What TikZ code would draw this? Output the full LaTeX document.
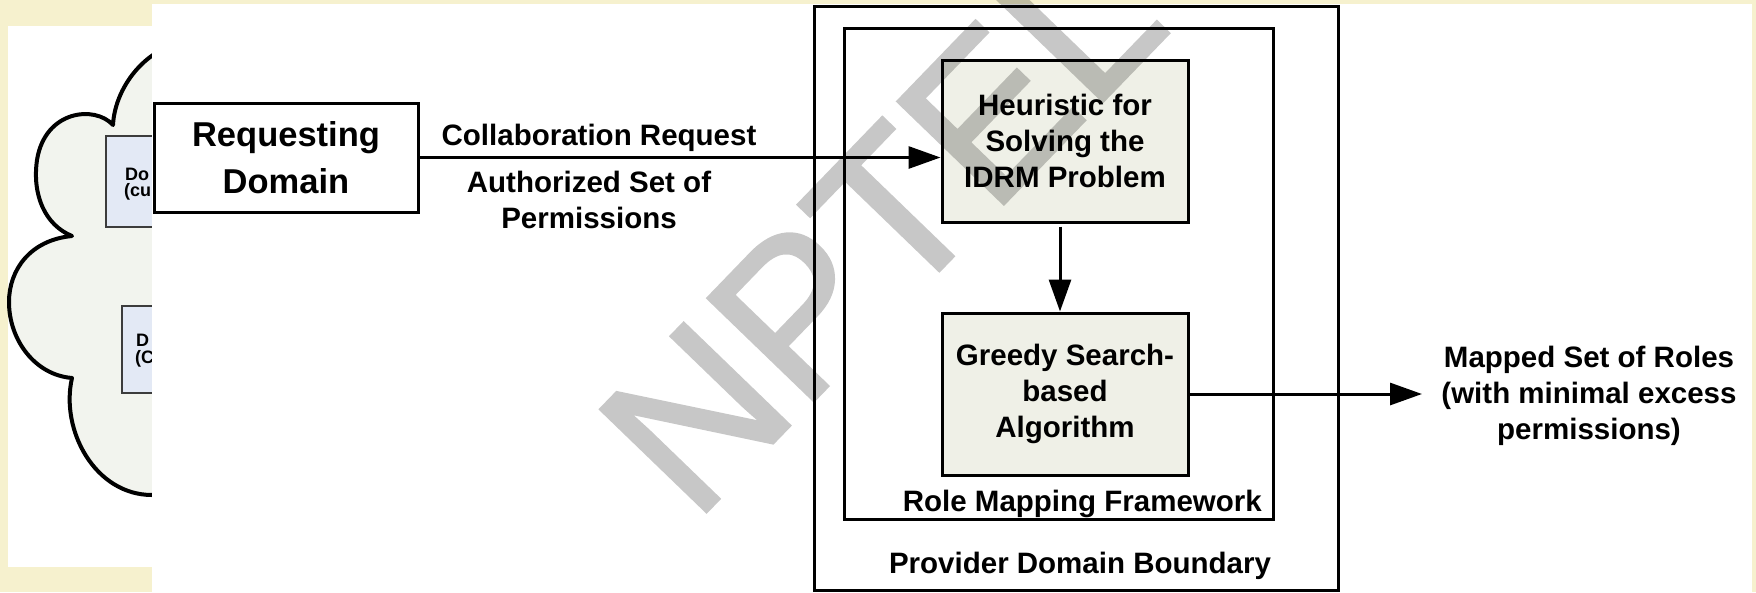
\documentclass[tikz,border=0pt]{standalone}
\usepackage{fontspec}
\setmainfont{Liberation Sans}
\newfontfamily\wmfont[FakeBold=1.5]{Liberation Sans}
\usetikzlibrary{arrows.meta}

\definecolor{paper}{HTML}{F6F1CE}
\definecolor{cloudfill}{HTML}{F2F4EE}
\definecolor{stepfill}{HTML}{EFF0E7}
\definecolor{domfill}{HTML}{E3E9F5}
\definecolor{domline}{HTML}{3C3C3C}

\tikzset{
  lbl/.style={font=\bfseries\fontsize{29.5}{36}\selectfont, align=center, inner sep=0pt},
  stepbox/.style={lbl, draw, line width=3pt, fill=stepfill,
                  minimum width=246pt, minimum height=162pt},
  reqbox/.style={draw, line width=3pt, fill=white, align=center, inner sep=0pt,
                 font=\bfseries\fontsize{34.5}{47}\selectfont,
                 minimum width=264pt, minimum height=109pt},
  framebox/.style={draw, line width=3pt, inner sep=0pt},
  flow/.style={line width=3pt, -{Triangle[length=32pt,width=22pt]}},
  dombox/.style={draw=domline, line width=1.5pt, fill=domfill},
  domtxt/.style={font=\bfseries\fontsize{18}{20}\selectfont, inner sep=0pt, anchor=west},
  wmark/.style={rotate=46, text=black, inner sep=0pt,
                font=\wmfont\fontsize{214}{214}\selectfont}
}

\begin{document}
\begin{tikzpicture}[x=1pt, y=-1pt]
\useasboundingbox (0,0) rectangle (1756,592);

% page background and the side panel
\fill[paper] (0,0) rectangle (1756,592);
\fill[white] (8,26) rectangle (152,567);

% cloud of domains on the left
\filldraw[fill=cloudfill, line width=4pt, line join=round]
  (200,40) .. controls (150,40) and (115,85) .. (113,125)
  .. controls (95,105) and (45,110) .. (37,160)
  .. controls (32,195) and (45,225) .. (72,236)
  .. controls (30,240) and (9,270) .. (9,302)
  .. controls (9,340) and (35,375) .. (72,378)
  .. controls (60,430) and (95,495) .. (152,495)
  .. controls (180,495) and (200,490) .. (220,480)
  -- (220,40) -- cycle;

\draw[dombox] (106,136) rectangle (240,227);
\draw[dombox] (122,306) rectangle (240,393);
\node[domtxt] (d1a) at (125,174) {Do};
\node[domtxt] (d1b) at (124,192) {(cu};
\node[domtxt] (d2a) at (136,340) {D};
\node[domtxt] (d2b) at (135,359) {(C};

% main drawing area
\fill[white] (152,4) rectangle (1752,592);

% provider side frames
\node[framebox, minimum width=524pt, minimum height=584pt] (provider) at (1076,298) {};
\node[framebox, minimum width=429pt, minimum height=491pt] (rmf) at (1058.5,273.5) {};
\node[lbl, anchor=base east] (rmflbl) at (1262,511) {Role Mapping Framework};
\node[lbl, anchor=base] (provlbl) at (1080,573) {Provider Domain Boundary};

% processing steps
\node[stepbox] (heur) at (1065,141) {Heuristic for\\Solving the\\IDRM Problem};
\node[stepbox] (greedy) at (1065,394) {Greedy Search-\\based\\Algorithm};

% requesting side
\node[reqbox] (req) at (286,157.5) {Requesting\\Domain};

% connectors
\draw[flow] (req.east) -- (req.east -| heur.west);
\node[lbl, anchor=base] (collab) at (599,145) {Collaboration Request};
\node[lbl] (authset) at (589,199.5) {Authorized Set of\\Permissions};

\draw[flow, shorten <=3pt] ([xshift=-5pt]heur.south) -- ([xshift=-5pt]greedy.north);

\coordinate (outtip) at (1422,394);
\draw[flow] (greedy.east) -- (greedy.east -| outtip);
\node[lbl] (mapped) at (1589,396) {Mapped Set of Roles\\(with minimal excess\\permissions)};

% watermark, composited as one translucent layer
\begin{scope}[transparency group, opacity=0.22]
  \node[wmark] (wm) at (881,225) {NPTEL};
\end{scope}
\end{tikzpicture}
\end{document}
